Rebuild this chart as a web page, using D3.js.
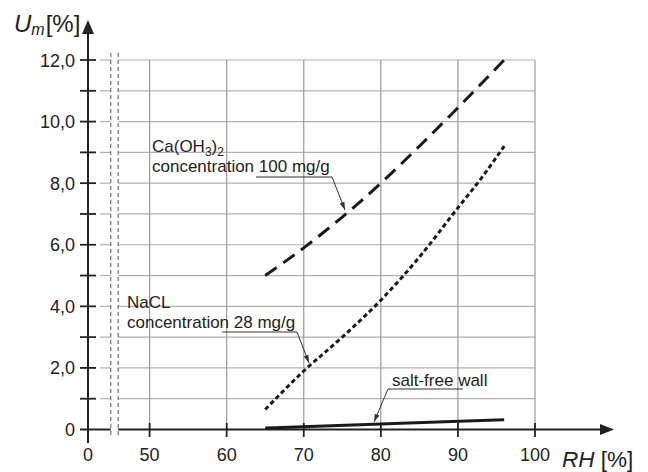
<!DOCTYPE html>
<html><head><meta charset="utf-8">
<script src="https://cdn.jsdelivr.net/npm/d3@7"></script>
<style>body{margin:0;background:#fff}svg{display:block}text{font-family:"Liberation Sans",Arial,sans-serif;fill:#222}</style>
</head><body>
<svg id="c" width="648" height="472"></svg>
<script>
// ---- data ----
const xTickValues = [0, 50, 60, 70, 80, 90, 100];
const xTickLabels = ["0", "50", "60", "70", "80", "90", "100"];
const yTickValues = [0, 2, 4, 6, 8, 10, 12];
const yTickLabels = ["0", "2,0", "4,0", "6,0", "8,0", "10,0", "12,0"];
const yMinorValues = [1, 2, 3, 4, 5, 6, 7, 8, 9, 10, 11, 12];
const gridX = [50, 60, 70, 80, 90, 100];

const rhCa = [65, 70, 75, 80, 85, 90, 96];
const umCa = [5.0, 5.9, 6.9, 8.0, 9.2, 10.45, 12.0];
const rhNa = [65, 70, 75, 80, 85, 90, 93, 96];
const umNa = [0.65, 1.9, 3.0, 4.2, 5.6, 7.2, 8.15, 9.2];
const rhFree = [65, 80, 96];
const umFree = [0.05, 0.18, 0.32];

const svg = d3.select("#c");
// broken x axis: 0 at origin, 50..100 linear
const x = d3.scaleLinear().domain([0, 50, 100]).range([88, 149.6, 535]);
const y = d3.scaleLinear().domain([0, 12]).range([429.5, 60]);
const breaks = [x(18.5), x(24.5)];

// grid
const g = svg.append("g");
yMinorValues.forEach(v => {
  [[100, breaks[0]], [breaks[1], x(100)]].forEach(([a, b]) => {
    g.append("line").attr("x1", a).attr("x2", b).attr("y1", y(v)).attr("y2", y(v))
      .attr("stroke", "#b0b0b0").attr("stroke-width", 1.2);
  });
});
gridX.forEach(v => {
  g.append("line").attr("x1", x(v)).attr("x2", x(v)).attr("y1", y(12)).attr("y2", y(0))
    .attr("stroke", "#999").attr("stroke-width", 1.2);
});
// break lines
breaks.forEach(bx => {
  g.append("line").attr("x1", bx).attr("x2", bx).attr("y1", 53).attr("y2", 438)
    .attr("stroke", "#555").attr("stroke-width", 1).attr("stroke-dasharray", "4,3");
});

// axes
const ax = svg.append("g").attr("stroke", "#222");
ax.append("line").attr("x1", 80).attr("x2", breaks[0]).attr("y1", y(0)).attr("y2", y(0)).attr("stroke-width", 2);
ax.append("line").attr("x1", breaks[1]).attr("x2", 602).attr("y1", y(0)).attr("y2", y(0)).attr("stroke-width", 2);
ax.append("line").attr("x1", x(0)).attr("x2", x(0)).attr("y1", 443).attr("y2", 32).attr("stroke-width", 2);
svg.append("path").attr("d", `M${x(0)},20 L${x(0)-6},34 L${x(0)+6},34 Z`).attr("fill", "#222");
svg.append("path").attr("d", `M614,${y(0)} L600,${y(0)-5.5} L600,${y(0)+5.5} Z`).attr("fill", "#222");

yMinorValues.forEach(v => {
  ax.append("line").attr("x1", 80).attr("x2", 96).attr("y1", y(v)).attr("y2", y(v)).attr("stroke-width", 1.8);
});
gridX.forEach(v => {
  ax.append("line").attr("x1", x(v)).attr("x2", x(v)).attr("y1", 423).attr("y2", 437).attr("stroke-width", 1.8);
});

// tick labels
yTickValues.forEach((v, i) => {
  svg.append("text").attr("x", 75).attr("y", y(v) + 6.5).attr("text-anchor", "end")
    .attr("font-size", 18).text(yTickLabels[i]);
});
xTickValues.forEach((v, i) => {
  svg.append("text").attr("x", x(v)).attr("y", 461).attr("text-anchor", "middle")
    .attr("font-size", 18).text(xTickLabels[i]);
});

// axis titles
const ut = svg.append("text").attr("x", 14).attr("y", 32).attr("font-size", 24);
ut.append("tspan").attr("font-style", "italic").text("U");
ut.append("tspan").attr("font-style", "italic").attr("font-size", 16).attr("dy", 3).attr("dx", 0).text("m");
ut.append("tspan").attr("dy", -3).attr("dx", 1).text("[%]");
const rt = svg.append("text").attr("x", 562).attr("y", 467).attr("font-size", 22.5);
rt.append("tspan").attr("font-style", "italic").text("RH");
rt.append("tspan").text(" [%]");

// curves
const line = d3.line().x(d => x(d[0])).y(d => y(d[1])).curve(d3.curveMonotoneX);
svg.append("path").datum(d3.zip(rhCa, umCa)).attr("d", line).attr("fill", "none")
  .attr("stroke", "#1a1a1a").attr("stroke-width", 3).attr("stroke-dasharray", "14,8");
svg.append("path").datum(d3.zip(rhNa, umNa)).attr("d", line).attr("fill", "none")
  .attr("stroke", "#1a1a1a").attr("stroke-width", 3).attr("stroke-dasharray", "4.5,3");
svg.append("path").datum(d3.zip(rhFree, umFree)).attr("d", line).attr("fill", "none")
  .attr("stroke", "#1a1a1a").attr("stroke-width", 3);

// annotations
const FS = 17;
const ca1 = svg.append("text").attr("x", 152).attr("y", 152).attr("font-size", FS);
ca1.append("tspan").text("Ca(OH");
ca1.append("tspan").attr("font-size", 12).attr("dy", 3.5).text("3");
ca1.append("tspan").attr("dy", -3.5).text(")");
ca1.append("tspan").attr("font-size", 12).attr("dy", 3.5).text("2");
svg.append("text").attr("x", 152).attr("y", 172).attr("font-size", FS).text("concentration 100 mg/g");
svg.append("text").attr("x", 127).attr("y", 308).attr("font-size", FS).text("NaCL");
svg.append("text").attr("x", 127).attr("y", 328).attr("font-size", FS).text("concentration 28 mg/g");
svg.append("text").attr("x", 392).attr("y", 386).attr("font-size", FS).text("salt-free wall");

function leader(pts) {
  svg.append("path").attr("d", d3.line()(pts)).attr("fill", "none").attr("stroke", "#333").attr("stroke-width", 1);
  const [p, q] = [pts[pts.length - 2], pts[pts.length - 1]];
  const a = Math.atan2(q[1] - p[1], q[0] - p[0]);
  const L = 8, W = 2.5;
  const bx = q[0] - L * Math.cos(a), by = q[1] - L * Math.sin(a);
  svg.append("path").attr("d", `M${q[0]},${q[1]} L${bx - W * Math.sin(a)},${by + W * Math.cos(a)} L${bx + W * Math.sin(a)},${by - W * Math.cos(a)} Z`).attr("fill", "#333");
}
leader([[256, 177], [332, 177], [345, 210]]);
leader([[222, 332], [297, 332], [309, 363]]);
leader([[463, 389], [388, 389], [374, 422]]);
</script>
</body></html>
